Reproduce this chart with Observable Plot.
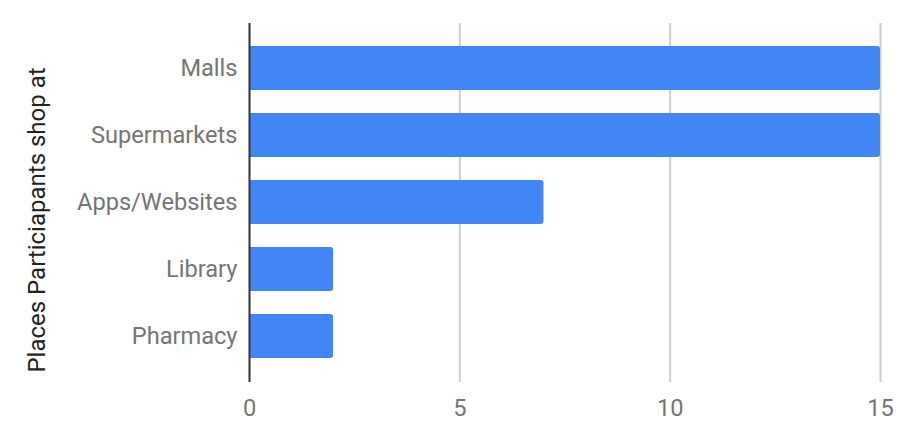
<!DOCTYPE html>
<html>
<head>
<meta charset="utf-8">
<script src="https://cdn.jsdelivr.net/npm/d3@7"></script>
<script src="https://cdn.jsdelivr.net/npm/@observablehq/plot@0.6"></script>
<style>
  html, body { margin: 0; padding: 0; background: #fff; }
  #chart svg { display: block; }
</style>
</head>
<body>
<div id="chart"></div>
<script>
const categories = ["Malls", "Supermarkets", "Apps/Websites", "Library", "Pharmacy"];
const counts = [15, 15, 7, 2, 2];
const xTicks = [0, 5, 10, 15];
const yTitle = "Places Particiapants shop at";

const data = categories.map((c, i) => ({category: c, value: counts[i]}));

const chart = Plot.plot({
  width: 902,
  height: 440,
  marginTop: 23,
  marginBottom: 58,
  marginLeft: 249,
  marginRight: 22,
  style: {fontFamily: "Roboto", fontSize: "23.6px", color: "#757575", background: "#fff"},
  x: {domain: [0, 15], ticks: xTicks},
  y: {domain: categories, padding: 0.34},
  marks: [
    Plot.gridX(xTicks.filter(d => d > 0), {stroke: "#cccccc", strokeOpacity: 1, strokeWidth: 2}),
    Plot.axisX(xTicks, {tickSize: 0, tickPadding: 17, fontSize: 23.6, fill: "#757575", label: null}),
    Plot.axisY({tickSize: 0, tickPadding: 12, fontSize: 23.6, fill: "#757575", label: null}),
    Plot.text([yTitle], {frameAnchor: "left", rotate: -90, dx: -212, dy: 17, textAnchor: "middle", lineAnchor: "middle", fontSize: 24, fill: "#222222"}),
    Plot.barX(data, {x: "value", y: "category", fill: "#4285f4", rx: 3}),
    Plot.barX(data, {x1: 0, x2: d => d.value / 2, y: "category", fill: "#4285f4"}),
    Plot.ruleX([0], {stroke: "#333333", strokeWidth: 2})
  ]
});
document.getElementById("chart").appendChild(chart);
</script>
</body>
</html>
